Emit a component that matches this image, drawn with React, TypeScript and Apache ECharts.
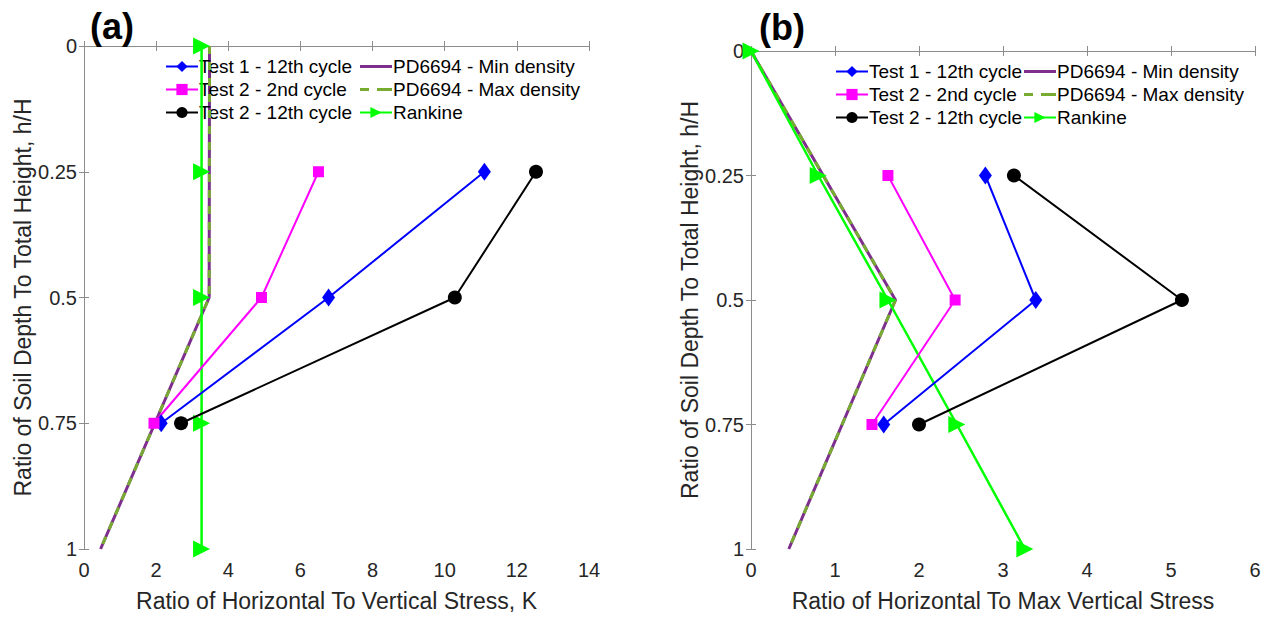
import React, { useEffect, useRef } from "react";
import * as echarts from "echarts";

// ---------- data ----------
const testDepths = [0.25, 0.5, 0.75];
const rankineDepths = [0, 0.25, 0.5, 0.75, 1];
const pdDepths = [0, 0.5, 1];

// (a) Ratio of horizontal to vertical stress, K
const aTest1 = [11.1, 6.78, 2.14];
const aTest2nd = [6.5, 4.92, 1.94];
const aTest12th = [12.53, 10.28, 2.69];
const aRankine = [3.26, 3.26, 3.26, 3.26, 3.26];
const aPDMin = [3.48, 3.47, 0.46];
const aPDMax = [3.48, 3.47, 0.46];

// (b) Ratio of horizontal to max vertical stress
const bTest1 = [2.79, 3.39, 1.58];
const bTest2nd = [1.63, 2.43, 1.44];
const bTest12th = [3.13, 5.13, 2.0];
const bRankine = [0, 0.8, 1.63, 2.45, 3.26];
const bPDMin = [0, 1.72, 0.45];
const bPDMax = [0, 1.72, 0.45];

const yTicks = [0, 0.25, 0.5, 0.75, 1];
const aXTicks = [0, 2, 4, 6, 8, 10, 12, 14];
const bXTicks = [0, 1, 2, 3, 4, 5, 6];

const names = [
  "Test 1 - 12th cycle",
  "Test 2 - 2nd cycle",
  "Test 2 - 12th cycle",
  "PD6694 - Min density",
  "PD6694 - Max density",
  "Rankine",
];

const FONT = "Liberation Sans, Arial, Helvetica, sans-serif";
const AXIS_COLOR = "#8c8c8c";
const TEXT_COLOR = "#262626";
const PURPLE = "#7e2f8e";
const OLIVE = "#77ac30";

function pairs(xs: number[], ys: number[]) {
  return xs.map((x, i) => [x, ys[i]]);
}

function buildSeries(
  idx: number,
  t1: number[],
  t2: number[],
  t3: number[],
  rk: number[],
  pmin: number[],
  pmax: number[]
) {
  const base = { type: "line", xAxisIndex: idx * 2, yAxisIndex: idx * 2, z: 3 };
  return [
    {
      ...base,
      name: names[3],
      data: pairs(pmin, pdDepths),
      symbol: "none",
      lineStyle: { color: PURPLE, width: 3 },
      itemStyle: { color: PURPLE },
    },
    {
      ...base,
      name: names[4],
      data: pairs(pmax, pdDepths),
      symbol: "none",
      lineStyle: { color: OLIVE, width: 3, type: [8, 8] },
      itemStyle: { color: OLIVE },
      z: 4,
    },
    {
      ...base,
      name: names[5],
      data: pairs(rk, rankineDepths),
      symbol: "triangle",
      symbolRotate: -90,
      symbolSize: 17,
      lineStyle: { color: "#00ff00", width: 2.5 },
      itemStyle: { color: "#00ff00" },
      z: 5,
    },
    {
      ...base,
      name: names[0],
      data: pairs(t1, testDepths),
      symbol: "diamond",
      symbolSize: [13, 18],
      lineStyle: { color: "#0000ff", width: 2 },
      itemStyle: { color: "#0000ff" },
      z: 6,
    },
    {
      ...base,
      name: names[1],
      data: pairs(t2, testDepths),
      symbol: "rect",
      symbolSize: 11,
      lineStyle: { color: "#ff00ff", width: 2 },
      itemStyle: { color: "#ff00ff" },
      z: 6,
    },
    {
      ...base,
      name: names[2],
      data: pairs(t3, testDepths),
      symbol: "circle",
      symbolSize: 14,
      lineStyle: { color: "#000000", width: 2 },
      itemStyle: { color: "#000000" },
      z: 6,
    },
  ];
}

function xAxes(gridIndex: number, ticks: number[], name: string, nameGap: number) {
  const min = ticks[0];
  const max = ticks[ticks.length - 1];
  const interval = ticks[1] - ticks[0];
  return [
    {
      type: "value",
      gridIndex,
      min,
      max,
      interval,
      position: "bottom",
      name,
      nameLocation: "middle",
      nameGap,
      nameTextStyle: { fontSize: 23, color: TEXT_COLOR, fontFamily: FONT },
      axisLine: { show: true, lineStyle: { color: AXIS_COLOR, width: 1 } },
      axisTick: { show: true, inside: true, length: 5, lineStyle: { color: AXIS_COLOR } },
      axisLabel: { fontSize: 20, color: TEXT_COLOR, fontFamily: FONT, margin: 11 },
      splitLine: { show: false },
    },
    {
      type: "value",
      gridIndex,
      min,
      max,
      interval,
      position: "top",
      axisLine: { show: true, lineStyle: { color: AXIS_COLOR, width: 1 } },
      axisTick: { show: true, inside: true, length: 5, lineStyle: { color: AXIS_COLOR } },
      axisLabel: { show: false },
      splitLine: { show: false },
    },
  ];
}

function yAxes(gridIndex: number, nameGap: number) {
  return [
    {
      type: "value",
      gridIndex,
      inverse: true,
      min: yTicks[0],
      max: yTicks[yTicks.length - 1],
      interval: yTicks[1] - yTicks[0],
      position: "left",
      name: "Ratio of Soil Depth To Total Height, h/H",
      nameLocation: "middle",
      nameRotate: 90,
      nameGap,
      nameTextStyle: { fontSize: 23, color: TEXT_COLOR, fontFamily: FONT },
      axisLine: { show: true, lineStyle: { color: AXIS_COLOR, width: 1 } },
      axisTick: { show: true, inside: true, length: 5, lineStyle: { color: AXIS_COLOR } },
      axisLabel: { fontSize: 20, color: TEXT_COLOR, fontFamily: FONT, margin: 7 },
      splitLine: { show: false },
    },
    {
      type: "value",
      gridIndex,
      inverse: true,
      min: yTicks[0],
      max: yTicks[yTicks.length - 1],
      interval: yTicks[1] - yTicks[0],
      position: "right",
      axisLine: { show: true, lineStyle: { color: AXIS_COLOR, width: 1 } },
      axisTick: { show: true, inside: true, length: 5, lineStyle: { color: AXIS_COLOR } },
      axisLabel: { show: false },
      splitLine: { show: false },
    },
  ];
}

const SOLID_ICON = "path://M0,0 L32,0 L32,3 L0,3 Z";
const DASH_ICON = "path://M0,0 L9,0 L9,3 L0,3 Z M17,0 L32,0 L32,3 L17,3 Z";

function legend(left: number, top: number, data: any[]) {
  return {
    orient: "vertical",
    left,
    top,
    data,
    itemWidth: 32,
    itemHeight: 14,
    itemGap: 4,
    padding: 0,
    selectedMode: false,
    textStyle: { fontSize: 19, color: "#000", fontFamily: FONT, padding: [0, 0, 0, -4] },
  };
}

const legendCol2 = [
  { name: names[3], icon: SOLID_ICON, itemStyle: { color: PURPLE } },
  { name: names[4], icon: DASH_ICON, itemStyle: { color: OLIVE } },
  { name: names[5] },
];

export default function App() {
  const ref = useRef<HTMLDivElement>(null);
  useEffect(() => {
    if (!ref.current) return;
    const chart = echarts.init(ref.current, undefined, { renderer: "svg" });
    const seriesA = buildSeries(0, aTest1, aTest2nd, aTest12th, aRankine, aPDMin, aPDMax);
    const seriesB = buildSeries(1, bTest1, bTest2nd, bTest12th, bRankine, bPDMin, bPDMax);
    chart.setOption({
      animation: false,
      backgroundColor: "#ffffff",
      title: [
        {
          text: "(a)",
          left: 85,
          top: 3,
          textStyle: { fontSize: 36, fontWeight: "bold", color: "#000", fontFamily: FONT },
        },
        {
          text: "(b)",
          left: 754,
          top: 4,
          textStyle: { fontSize: 36, fontWeight: "bold", color: "#000", fontFamily: FONT },
        },
      ],
      legend: [
        legend(165, 57, names.slice(0, 3)),
        legend(359, 57, legendCol2),
        legend(835, 62, names.slice(0, 3)),
        legend(1023, 62, legendCol2),
      ],
      grid: [
        { left: 84, top: 46, width: 505, height: 506, show: false, containLabel: false },
        { left: 751, top: 51, width: 504, height: 504, show: false, containLabel: false },
      ],
      xAxis: [
        ...xAxes(0, aXTicks, "Ratio of Horizontal To Vertical Stress, K", 40),
        ...xAxes(1, bXTicks, "Ratio of Horizontal To Max Vertical Stress", 40),
      ],
      yAxis: [...yAxes(0, 50), ...yAxes(1, 50)],
      series: [...seriesA, ...seriesB],
    });
    return () => chart.dispose();
  }, []);
  return (
    <div
      ref={ref}
      style={{ position: "absolute", left: 0, top: 0, width: 1266, height: 617, background: "#fff" }}
    />
  );
}
